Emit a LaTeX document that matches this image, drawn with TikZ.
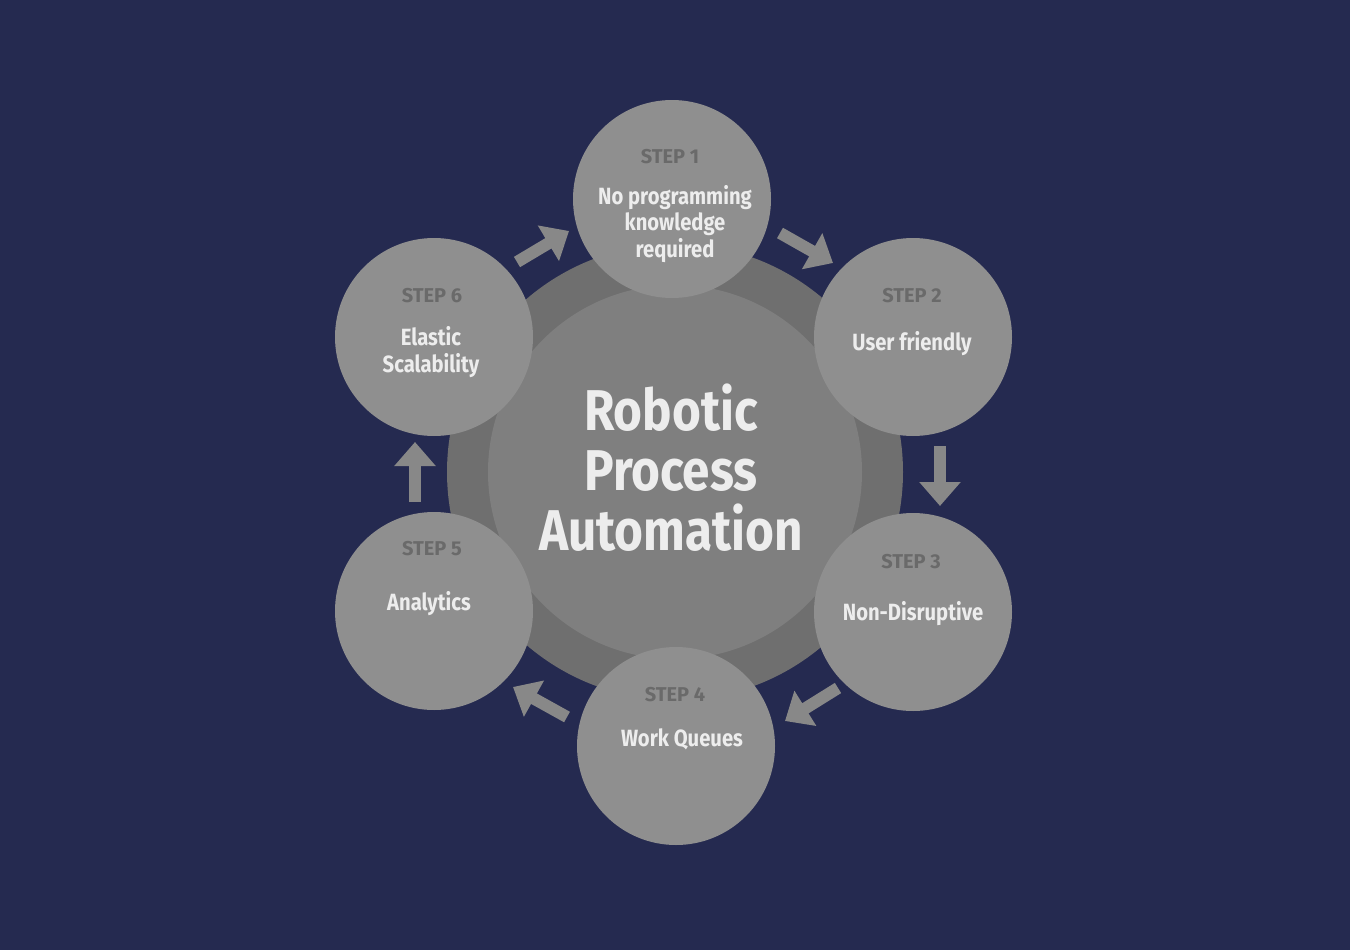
\documentclass[tikz,border=0pt]{standalone}
\usepackage{fontspec}
\setmainfont{Fira Sans}[FakeStretch=0.86]
\newfontfamily\labfont{Fira Sans}
\usetikzlibrary{arrows.meta}
\definecolor{bg}{HTML}{252A50}
\definecolor{stepc}{HTML}{8F8F8F}
\definecolor{ringc}{HTML}{6F6F6F}
\definecolor{innerc}{HTML}{7F7F7F}
\definecolor{arrc}{HTML}{888888}
\definecolor{labc}{HTML}{6A6A6A}
\definecolor{txtc}{HTML}{EDEDED}
\tikzset{
  stepcircle/.style={circle, fill=stepc, minimum size=198pt, inner sep=0pt},
  steplabel/.style={text=labc, font=\labfont\fontsize{20}{22}\selectfont\bfseries},
  steptext/.style={text=txtc, align=center, font=\fontsize{23.5}{26.5}\selectfont\bfseries},
  blockarrow/.style={draw=arrc, line width=12pt, -{Triangle[width=40pt,length=24pt]}},
}
\begin{document}
\begin{tikzpicture}[x=1pt,y=-1pt]
\fill[bg] (0,0) rectangle (1350,950);
\useasboundingbox (0,0) rectangle (1350,950);
% central rings
\node[circle, fill=ringc, minimum size=456pt, inner sep=0pt] (ring) at (675,472) {};
\node[circle, fill=innerc, minimum size=374pt, inner sep=0pt] (inner) at (675,472) {};
\node[text=txtc, align=center, font=\fontsize{57.5}{60}\selectfont\bfseries] (title) at (671,468) {Robotic\\Process\\Automation};
% step circles
\node[stepcircle] (s1) at (672,199) {};
\node[stepcircle] (s2) at (913,337) {};
\node[stepcircle] (s3) at (913,612) {};
\node[stepcircle] (s4) at (676,746) {};
\node[stepcircle] (s5) at (434,611) {};
\node[stepcircle] (s6) at (434,337) {};
% labels
\node[steplabel] (l1) at (670,157) {STEP 1};
\node[steptext] (t1) at (675,224) {No programming\\knowledge\\required};
\node[steplabel] (l2) at (912,296) {STEP 2};
\node[steptext] (t2) at (912,344) {User friendly};
\node[steplabel] (l3) at (911,562) {STEP 3};
\node[steptext] (t3) at (913,614) {Non-Disruptive};
\node[steplabel] (l4) at (675,695) {STEP 4};
\node[steptext] (t4) at (682,739) {Work Queues};
\node[steplabel] (l5) at (432,549) {STEP 5};
\node[steptext] (t5) at (429,604) {Analytics};
\node[steplabel] (l6) at (432,296) {STEP 6};
\node[steptext] (t6) at (431,352) {Elastic\\Scalability};
% arrow endpoints
\coordinate (a1s) at (780,233);
\coordinate (a1e) at (833,263);
\coordinate (a2s) at (940,446);
\coordinate (a2e) at (940,506);
\coordinate (a3s) at (838,688);
\coordinate (a3e) at (785,721);
\coordinate (a4s) at (567,717);
\coordinate (a4e) at (513,687);
\coordinate (a5s) at (415,502);
\coordinate (a5e) at (415,442);
\coordinate (a6s) at (517,262);
\coordinate (a6e) at (569,231);
\draw[blockarrow] (a1s) -- (a1e);
\draw[blockarrow] (a2s) -- (a2e);
\draw[blockarrow] (a3s) -- (a3e);
\draw[blockarrow] (a4s) -- (a4e);
\draw[blockarrow] (a5s) -- (a5e);
\draw[blockarrow] (a6s) -- (a6e);
\end{tikzpicture}
\end{document}
